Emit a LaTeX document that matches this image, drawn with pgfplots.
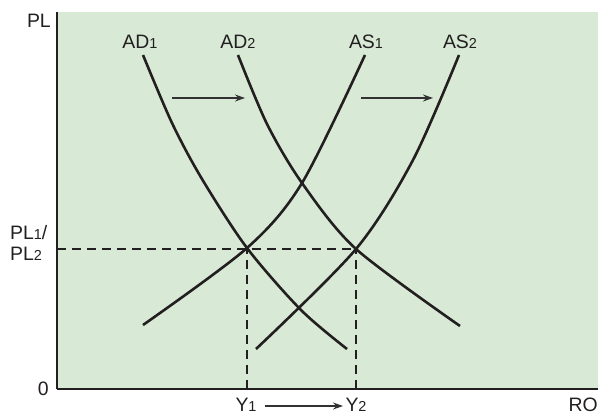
\documentclass[border=0pt]{standalone}
\usepackage{pgfplots}
\pgfplotsset{compat=1.18}
\usepackage{fontspec}
\setmainfont{Liberation Sans}
\usetikzlibrary{arrows.meta}
\definecolor{bg}{RGB}{216,234,214}
\definecolor{ink}{RGB}{35,31,32}
\definecolor{arr}{RGB}{50,50,50}
\newcommand{\lab}[2]{#1{\fontsize{14.5}{15}\selectfont #2}}
\begin{document}
\begin{tikzpicture}[every node/.style={font=\fontsize{19.5}{21}\selectfont, text=ink}]
\begin{axis}[
  x=1bp, y=1bp,
  xmin=0, xmax=541, ymin=0, ymax=377,
  axis x line=bottom, axis y line=left,
  axis line style={-, line width=2.6bp, ink},
  xtick=\empty, ytick=\empty,
  axis background/.style={fill=bg},
  clip=false,
]
\addplot[ink, line width=1.2bp, dash pattern=on 9bp off 6bp] coordinates {(0,140) (299,140)};
\addplot[ink, line width=1.2bp, dash pattern=on 9bp off 6bp] coordinates {(190,0) (190,140)};
\addplot[ink, line width=1.2bp, dash pattern=on 9bp off 6bp] coordinates {(299,0) (299,140)};
% AD1
\addplot[ink, line width=2.6bp, smooth] coordinates {(86,334) (115,266) (145,210) (190,141) (244,79) (290,40)};
% AD2
\addplot[ink, line width=2.6bp, smooth] coordinates {(181,334) (210,265) (245,206) (299,140) (403,63)};
% AS1
\addplot[ink, line width=2.6bp, smooth] coordinates {(86,64) (190,141) (245,206) (308,334)};
% AS2
\addplot[ink, line width=2.6bp, smooth] coordinates {(199,40) (299,140) (356,229) (402,334)};
% arrows
\addplot[arr, line width=1.3bp, -{Stealth[length=10bp,width=7bp]}] coordinates {(115,291) (188,291)};
\addplot[arr, line width=1.3bp, -{Stealth[length=10bp,width=7bp]}] coordinates {(304,291) (376,291)};
\addplot[arr, line width=1.3bp, -{Stealth[length=10bp,width=7bp]}] coordinates {(208,-17) (286,-17)};
% labels
\node at (axis cs:83,347) {\lab{AD}{1}};
\node at (axis cs:181,347) {\lab{AD}{2}};
\node at (axis cs:309,347) {\lab{AS}{1}};
\node at (axis cs:403,347) {\lab{AS}{2}};
\node[anchor=east, inner sep=0pt] at (axis cs:-6,368) {PL};
\node[anchor=west, inner sep=0pt] at (axis cs:-47,156) {\lab{PL}{1}/};
\node[anchor=west, inner sep=0pt] at (axis cs:-47,135) {\lab{PL}{2}};
\node[anchor=east, inner sep=0pt] at (axis cs:-8,0) {0};
\node[inner sep=0pt] at (axis cs:189,-16) {\lab{Y}{1}};
\node[inner sep=0pt] at (axis cs:299,-16) {\lab{Y}{2}};
\node[anchor=east, inner sep=0pt] at (axis cs:541,-16) {RO};
\coordinate (bl) at (axis cs:-57,-28);
\coordinate (tr) at (axis cs:541,389);
\end{axis}
\pgfresetboundingbox
\useasboundingbox (bl) rectangle (tr);
\end{tikzpicture}
\end{document}
